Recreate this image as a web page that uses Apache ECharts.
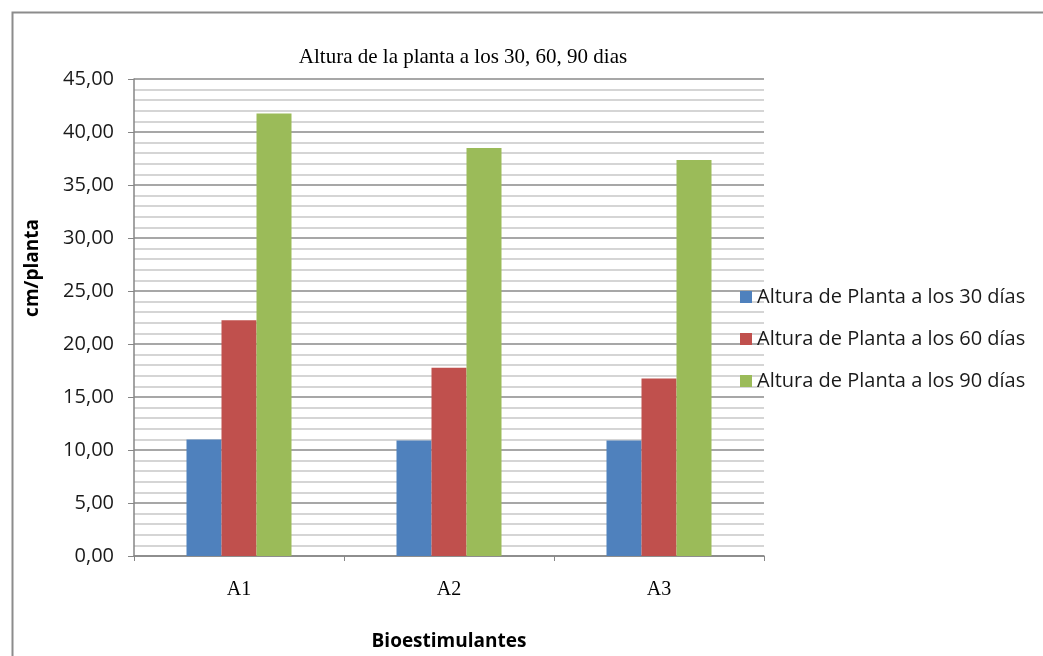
<!DOCTYPE html>
<html>
<head>
<meta charset="utf-8">
<style>
  html, body { margin: 0; padding: 0; background: #ffffff; }
  #chart { width: 1043px; height: 656px; }
</style>
<script src="https://cdn.jsdelivr.net/npm/echarts@6/dist/echarts.min.js"></script>
</head>
<body>
<div id="chart"></div>
<script>
  /* datos */
  var categorias = ["A1", "A2", "A3"];
  var series30 = [11.0, 10.9, 10.9];
  var series60 = [22.25, 17.75, 16.75];
  var series90 = [41.75, 38.5, 37.35];
  var nombres = [
    "Altura de Planta a los 30 días",
    "Altura de Planta a los 60 días",
    "Altura de Planta a los 90 días"
  ];
  var colores = ["#4f81bd", "#c0504d", "#9bbb59"];

  var chart = echarts.init(document.getElementById("chart"));

  function serie(i, datos) {
    return {
      name: nombres[i],
      type: "bar",
      data: datos,
      barWidth: 35,
      barGap: "0%",
      itemStyle: { color: colores[i] }
    };
  }

  chart.setOption({
    animation: false,
    graphic: [{
      type: "rect",
      left: 10, top: 10,
      shape: { width: 1100, height: 700 },
      style: { fill: "none", stroke: "#8c8c8c", lineWidth: 2 },
      silent: true
    }, {
      /* título del eje Y, centrado como en el original (no en el centro del eje) */
      type: "text",
      x: 33, y: 268,
      rotation: Math.PI / 2,
      style: {
        text: "cm/planta",
        fontFamily: "Open Sans",
        fontSize: 19,
        fontWeight: "bold",
        fill: "#000",
        align: "center",
        verticalAlign: "middle"
      },
      silent: true
    }],
    title: {
      text: "Altura de la planta a los 30, 60, 90 dias",
      left: 458, top: 42,
      textAlign: "center",
      textStyle: {
        fontFamily: "Liberation Serif",
        fontSize: 21,
        fontWeight: "normal",
        color: "#000"
      }
    },
    legend: {
      orient: "vertical",
      left: 735, top: 282,
      itemWidth: 12, itemHeight: 12,
      itemGap: 22,
      icon: "rect",
      textStyle: { fontFamily: "Open Sans", fontSize: 20, color: "#1a1a1a", padding: [0, 0, 0, 0] },
      data: nombres
    },
    grid: { left: 134, top: 79, width: 630, height: 477, containLabel: false, outerBoundsMode: "none" },
    xAxis: {
      type: "category",
      data: categorias,
      name: "Bioestimulantes",
      nameLocation: "middle",
      nameGap: 76,
      nameTextStyle: { fontFamily: "Open Sans", fontSize: 19, fontWeight: "bold", color: "#000" },
      axisLine: { lineStyle: { color: "#868686", width: 1.5 } },
      axisTick: { show: true, alignWithLabel: false, length: 5, lineStyle: { color: "#868686" } },
      axisLabel: { fontFamily: "Liberation Serif", fontSize: 20, color: "#000", margin: 24 }
    },
    yAxis: {
      type: "value",
      min: 0, max: 45, interval: 5,
      axisLine: { show: true, lineStyle: { color: "#868686", width: 1.5 } },
      axisTick: { show: true, length: 6, lineStyle: { color: "#868686" } },
      axisLabel: {
        fontFamily: "Open Sans", fontSize: 20, color: "#1a1a1a", margin: 20,
        formatter: function (v) { return v.toFixed(2).replace(".", ","); }
      },
      splitLine: { lineStyle: { color: "#8a8a8a", width: 1.5 } },
      minorTick: { show: false, splitNumber: 5 },
      minorSplitLine: { show: true, lineStyle: { color: "#c8c8c8", width: 1.5 } }
    },
    series: [serie(0, series30), serie(1, series60), serie(2, series90)]
  });
</script>
</body>
</html>
